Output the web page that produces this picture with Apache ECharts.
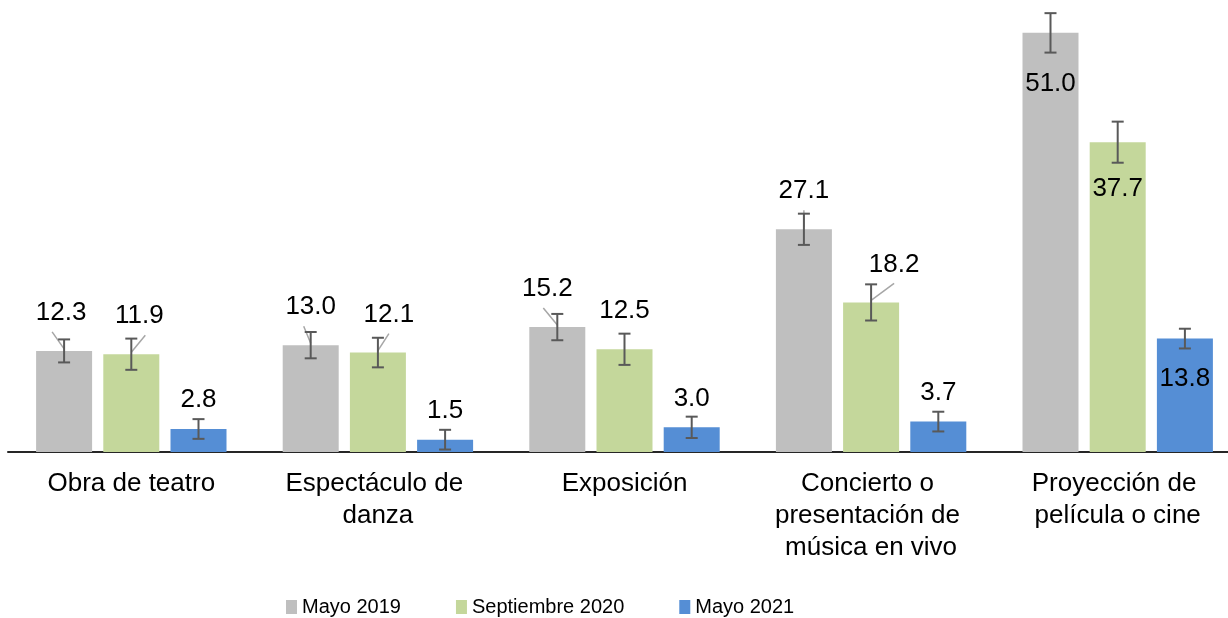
<!DOCTYPE html>
<html>
<head>
<meta charset="utf-8">
<script src="https://cdn.jsdelivr.net/npm/echarts@6/dist/echarts.min.js"></script>
<style>
  html, body { margin: 0; padding: 0; background: #fff; }
  #mainBox { width: 1228px; height: 618px; }
</style>
</head>
<body>
<div id="mainBox"></div>
<script>
// datos del gráfico
var categories = ['Obra de teatro', 'Espectáculo de danza', 'Exposición',
  'Concierto o presentación de música en vivo', 'Proyección de película o cine'];
var seriesNames = ['Mayo 2019', 'Septiembre 2020', 'Mayo 2021'];
var may2019 = [12.3, 13.0, 15.2, 27.1, 51.0];
var sep2020 = [11.9, 12.1, 12.5, 18.2, 37.7];
var may2021 = [2.8, 1.5, 3.0, 3.7, 13.8];
// margen de error (+/-)
var err2019 = [1.4, 1.6, 1.6, 1.9, 2.4];
var err2020 = [1.9, 1.8, 1.9, 2.2, 2.5];
var err2021 = [1.2, 1.2, 1.3, 1.2, 1.2];

var values = [may2019, sep2020, may2021];
var errors = [err2019, err2020, err2021];
var colors = ['#BFBFBF', '#C4D79B', '#558ED5'];

var FONT = '"Liberation Sans", Arial, sans-serif';
var barW = 56, barGap = 11.2;
// ajustes de etiquetas: desplazamiento x, y punto de salida de la línea guía
var labelDx = [[-3, 0, -10, 0, 0], [8, 11, 0, 23, 0], [0, 0, 0, 0, 0]];
var lineDx = [[-9, -7, -4, 0, null], [6, 0, null, 0, null], [null, null, null, null, null]];
var labelDist = [25, 25, 16];
var insideDist = [38, 34, 27];

var myChart = echarts.init(document.getElementById('mainBox'));

var series = [];
values.forEach(function (vals, s) {
  series.push({
    name: seriesNames[s],
    type: 'bar',
    barWidth: barW,
    barGap: '20%',
    itemStyle: { color: colors[s] },
    label: {
      show: true,
      position: 'top',
      distance: labelDist[s],
      color: '#000',
      fontFamily: FONT,
      fontSize: 26,
      formatter: function (p) { return p.value.toFixed(1); }
    },
    data: vals.map(function (v, i) {
      if (i === 4) {
        return { value: v, label: { position: 'insideTop', distance: insideDist[s] } };
      }
      return { value: v, label: { offset: [labelDx[s][i], 0] } };
    }),
    z: 2
  });
});

// barras de error y líneas guía
var errData = [];
values.forEach(function (vals, s) {
  vals.forEach(function (v, i) {
    errData.push([i, v, errors[s][i], s]);
  });
});

series.push({
  type: 'custom',
  name: 'error',
  data: errData,
  z: 5,
  silent: true,
  encode: { x: 0, y: 1 },
  renderItem: function (params, api) {
    var i = api.value(0), v = api.value(1), e = api.value(2), s = api.value(3);
    var off = (s - 1) * (barW + barGap);
    var top = api.coord([i, v + e]);
    var bot = api.coord([i, v - e]);
    var bar = api.coord([i, v]);
    var x = top[0] + off;
    var cap = 6;
    var children = [];
    var ld = lineDx[s][i];
    if (ld !== null && ld !== undefined) {
      children.push({
        type: 'line',
        shape: { x1: x + labelDx[s][i] + ld, y1: bar[1] - labelDist[s] + 6, x2: x, y2: bar[1] - 2 },
        style: { stroke: '#A6A6A6', lineWidth: 1.5 }
      });
    }
    var st = { stroke: '#595959', lineWidth: 2 };
    children.push(
      { type: 'line', shape: { x1: x, y1: top[1], x2: x, y2: bot[1] }, style: st },
      { type: 'line', shape: { x1: x - cap, y1: top[1], x2: x + cap, y2: top[1] }, style: st },
      { type: 'line', shape: { x1: x - cap, y1: bot[1], x2: x + cap, y2: bot[1] }, style: st }
    );
    return { type: 'group', children: children };
  }
});

var option = {
  animation: false,
  backgroundColor: '#fff',
  grid: { left: 8, top: 0, width: 1233, height: 452, containLabel: false, outerBoundsMode: 'none' },
  legend: {
    data: seriesNames,
    left: 281,
    top: 592,
    icon: 'rect',
    itemWidth: 11,
    itemHeight: 14,
    itemGap: 55,
    textStyle: { fontFamily: FONT, fontSize: 20, color: '#000' }
  },
  xAxis: {
    type: 'category',
    data: categories,
    axisLine: { lineStyle: { color: '#262626', width: 2 } },
    axisTick: { show: false },
    axisLabel: {
      interval: 0,
      color: '#000',
      fontFamily: FONT,
      fontSize: 26,
      lineHeight: 32,
      margin: 16,
      width: 220,
      overflow: 'break'
    }
  },
  yAxis: {
    type: 'value',
    min: 0,
    max: 55,
    show: false,
    splitLine: { show: false }
  },
  series: series
};

myChart.setOption(option);
</script>
</body>
</html>
